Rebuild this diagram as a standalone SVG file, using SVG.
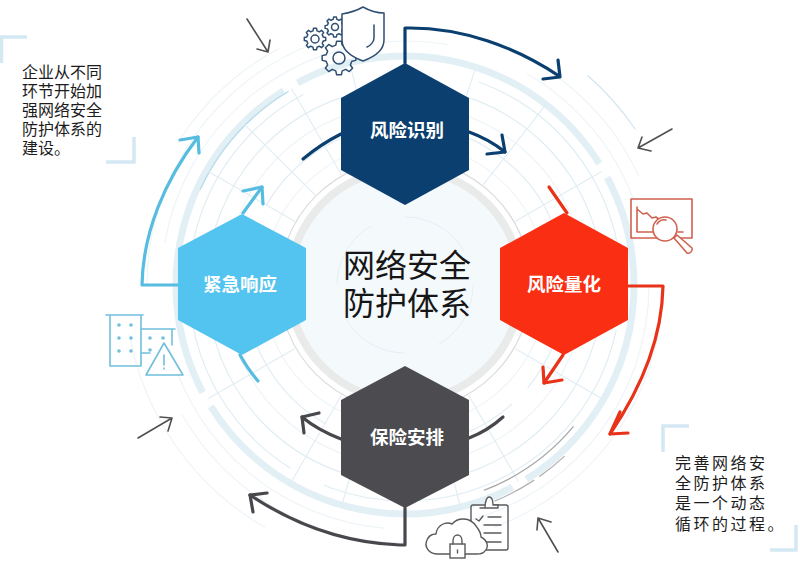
<svg xmlns="http://www.w3.org/2000/svg" xmlns:xlink="http://www.w3.org/1999/xlink" width="800" height="567" viewBox="0 0 800 567">
<style>
text{font-family:"Liberation Sans","Noto Sans CJK SC",sans-serif}
.lbl{font-size:18.5px;font-weight:700;fill:#fff;text-anchor:middle}
.note{font-size:16px;fill:#1c1c1c}
.ctr{font-size:32px;fill:#161616;text-anchor:middle}
.a{fill:none;stroke-width:3.2;stroke-linecap:round;stroke-linejoin:round}
.navy{stroke:#0b3f70}.red{stroke:#e8321a}.dark{stroke:#47474c}.blue{stroke:#56bce0}
.thin{fill:none;stroke:#505050;stroke-width:1.6;stroke-linecap:round;stroke-linejoin:round}
.ring{fill:none;stroke:#eef4f7;stroke-width:1.2}
.ringb{fill:none;stroke:#e0edf3;stroke-width:1.2}
.rad{stroke:#e0edf3;stroke-width:1.1}
.thick{fill:none;stroke:#e2f0f6;stroke-width:7}
.br{fill:none;stroke:#d3e8f3;stroke-width:3.5}
.ic-n{fill:none;stroke:#2e4e72;stroke-width:1.5;stroke-linejoin:round;stroke-linecap:round}
.ic-r{fill:none;stroke:#d0614f;stroke-width:1.6;stroke-linejoin:round;stroke-linecap:round}
.ic-b{fill:none;stroke:#70c0dc;stroke-width:1.6;stroke-linejoin:round;stroke-linecap:round}
.ic-g{fill:none;stroke:#5a5a5e;stroke-width:1.4;stroke-linejoin:round;stroke-linecap:round}
.dot{fill:#70c0dc}
</style>
<defs>
<polygon id="gear" vector-effect="non-scaling-stroke" points="7.57,-1.89 9.9,-1.39 9.9,1.39 7.57,1.89 6.69,4.02 7.99,6.02 6.02,7.99 4.02,6.69 1.89,7.57 1.39,9.9 -1.39,9.9 -1.89,7.57 -4.02,6.69 -6.02,7.99 -7.99,6.02 -6.69,4.02 -7.57,1.89 -9.9,1.39 -9.9,-1.39 -7.57,-1.89 -6.69,-4.02 -7.99,-6.02 -6.02,-7.99 -4.02,-6.69 -1.89,-7.57 -1.39,-9.9 1.39,-9.9 1.89,-7.57 4.02,-6.69 6.02,-7.99 7.99,-6.02 6.69,-4.02"/>
</defs>
<rect width="800" height="567" fill="#fff"/>

<g id="backdrop">
<circle class="ring" cx="405" cy="285" r="280" pathLength="360" stroke-dasharray="50 360" transform="rotate(120 405 285)"/>
<circle fill="none" stroke="#d4e6ee" stroke-width="1.300" cx="405" cy="285" r="278" pathLength="360" stroke-dasharray="15 360" transform="rotate(-49 405 285)"/>
<circle class="ring" cx="405" cy="285" r="268" pathLength="360" stroke-dasharray="30 360" transform="rotate(212 405 285)"/>
<circle class="ring" cx="405" cy="285" r="258" pathLength="360" stroke-dasharray="70 20 60 30 70 25 60 25"/>
<circle class="ring" cx="405" cy="285" r="244" pathLength="360" stroke-dasharray="80 15 70 25 90 20 40 20"/>
<circle class="thick" cx="405" cy="285" r="229" pathLength="360" stroke-dasharray="86 4" transform="rotate(-28 405 285)"/>
<circle class="ringb" cx="405" cy="285" r="216" pathLength="360" stroke-dasharray="70 12 100 10 120 48" transform="rotate(-70 405 285)"/>
<circle class="ringb" cx="405" cy="285" r="198"/>
<circle class="ring" cx="405" cy="285" r="180"/>
<circle class="ringb" cx="405" cy="285" r="160" pathLength="360" stroke-dasharray="40 8 60 12 80 10 50 12 70 18"/>
<circle class="ring" cx="405" cy="285" r="142"/>
<circle cx="405" cy="285" r="226" fill="none" stroke="#b5dcea" stroke-width="1.300" pathLength="360" stroke-dasharray="34 400" transform="rotate(205 405 285)"/>
<g>
<line class="rad" x1="532" y1="285" x2="632" y2="285" transform="rotate(-72 405 285)"/>
<line class="rad" x1="532" y1="285" x2="632" y2="285" transform="rotate(-52 405 285)"/>
<line class="rad" x1="532" y1="285" x2="632" y2="285" transform="rotate(-30 405 285)"/>
<line class="rad" x1="532" y1="285" x2="632" y2="285" transform="rotate(30 405 285)"/>
<line class="rad" x1="532" y1="285" x2="632" y2="285" transform="rotate(60 405 285)"/>
<line class="rad" x1="532" y1="285" x2="632" y2="285" transform="rotate(76 405 285)"/>
<line class="rad" x1="532" y1="285" x2="632" y2="285" transform="rotate(106 405 285)"/>
<line class="rad" x1="532" y1="285" x2="632" y2="285" transform="rotate(120 405 285)"/>
<line class="rad" x1="532" y1="285" x2="632" y2="285" transform="rotate(150 405 285)"/>
<line class="rad" x1="532" y1="285" x2="632" y2="285" transform="rotate(210 405 285)"/>
<line class="rad" x1="532" y1="285" x2="632" y2="285" transform="rotate(225 405 285)"/>
<line class="rad" x1="532" y1="285" x2="632" y2="285" transform="rotate(240 405 285)"/>
<line class="rad" x1="532" y1="285" x2="632" y2="285" transform="rotate(256 405 285)"/>
</g>
<circle cx="405" cy="285" r="112" fill="#f4f9fc"/>
<circle cx="405" cy="285" r="68" fill="none" stroke="#e7eff4" stroke-width="1" pathLength="360" stroke-dasharray="60 30"/>
<circle cx="405" cy="285" r="116" fill="none" stroke="#e9eaea" stroke-width="8"/>
<circle cx="405" cy="285" r="126" fill="none" stroke="#dcdcdc" stroke-width="1.200"/>
<circle cx="405" cy="285" r="220" fill="none" stroke="#a8a8a8" stroke-width="1.300" pathLength="360" stroke-dasharray="29 400" transform="rotate(40 405 285)"/>
<circle cx="405" cy="285" r="234" fill="none" stroke="#b4b4b4" stroke-width="1.300" pathLength="360" stroke-dasharray="8 1.5 11 400" transform="rotate(47 405 285)"/>
</g>

<g id="brackets">
<path class="br" d="M27 37H1.500V63"/>
<path class="br" d="M134 137V162H106"/>
<path class="br" d="M689 426H663V452"/>
<path class="br" d="M796 525V550H770"/>
</g>

<g id="connectors">
<path class="a navy" d="M405 63V28H410C462 28 514 46 559 76"/>
<path class="a navy" d="M558 60L560 77L543 79"/>
<path class="a navy" d="M303 159C315 149 327 141 341 134"/>
<path class="a navy" d="M469 132C483 137 495 144 505 152"/>
<path class="a navy" d="M502 135L505 152L487 154"/>
<path class="a red" d="M549 187L567 213"/>
<path class="a red" d="M628 286H663C662 340 640 390 610 434"/>
<path class="a red" d="M620 412L610 434L628 433"/>
<path class="a red" d="M563 355L544 383"/>
<path class="a red" d="M543 367L544 383L562 380"/>
<path class="a dark" d="M405 508V545H400C345 543 295 525 250 495"/>
<path class="a dark" d="M253 512L250 495L267 493"/>
<path class="a dark" d="M341 439C328 434 314 427 302 417"/>
<path class="a dark" d="M304 433L302 417L319 413"/>
<path class="a dark" d="M469 438C482 433 493 426 503 417"/>
<path class="a blue" d="M178 285H142C143 232 165 180 198 137"/>
<path class="a blue" d="M180 140L198 137L199 153"/>
<path class="a blue" d="M243 213L262 187"/>
<path class="a blue" d="M243 191L262 187L263 204"/>
<path class="a blue" d="M240 355C245 364 251 373 258 381"/>
<path class="thin" d="M247 19L268 52M257 49L268 52L270 40"/>
<path class="thin" d="M672 129L638 148M642 137L638 148L651 151"/>
<path class="thin" d="M138 438L172 418M160 417L172 418L168 431"/>
<path class="thin" d="M558 552L538 518M537 530L538 518L551 522"/>
</g>

<g id="node-identify">
<polygon points="405,63 469,98 469,170 405,205 341,170 341,98" fill="#0b3f70"/>
<text class="lbl" x="407" y="137">风险识别</text>
</g>
<g id="node-quantify">
<polygon points="564,213 628,248 628,320 564,355 500,320 500,248" fill="#f92e13"/>
<text class="lbl" x="564" y="291">风险量化</text>
</g>
<g id="node-arrange">
<polygon points="405,366 469,400 469,475 405,508 341,475 341,400" fill="#4b4b50"/>
<text class="lbl" x="407" y="444">保险安排</text>
</g>
<g id="node-respond">
<polygon points="242,214 306,248 306,320 242,355 178,320 178,248" fill="#53c3ef"/>
<text class="lbl" x="240" y="291">紧急响应</text>
</g>
<g id="node-center">
<text class="ctr" x="407" y="277">网络安全</text>
<text class="ctr" x="407" y="315">防护体系</text>
</g>

<g id="icon-gears">
<use xlink:href="#gear" href="#gear" class="ic-n" transform="translate(315 39) scale(1.080)"/>
<circle class="ic-n" cx="315" cy="39" r="4"/>
<use xlink:href="#gear" href="#gear" class="ic-n" transform="translate(335 27) scale(1)"/>
<circle class="ic-n" cx="335" cy="27" r="3.500"/>
<use xlink:href="#gear" href="#gear" class="ic-n" transform="translate(339 58) scale(1.700)"/>
<circle class="ic-n" cx="339" cy="58" r="6"/>
<path d="M363 7C356 11 349 13 342 14V40C342 50 352 57 363 61C374 57 384 50 384 40V13C377 13 370 11 363 7Z" fill="#fff" stroke="#2e4e72" stroke-width="1.500" stroke-linejoin="round"/>
<path class="ic-n" d="M374 25V38C374 42 370 46 367 47"/>
</g>
<g id="icon-chart">
<rect class="ic-r" x="631" y="199" width="61" height="39"/>
<path class="ic-r" d="M637 207V232H665M637 209L643 214L647 213L652 218L656 217L660 220"/>
<circle cx="665" cy="229" r="12" fill="#fff" stroke="#d0614f" stroke-width="1.600"/>
<path class="ic-r" d="M657 224C659 221 662 219 666 220"/>
<path d="M674 238L677 235L692 248C693 251 690 254 687 253Z" fill="#fff" stroke="#d0614f" stroke-width="1.600" stroke-linejoin="round"/>
<path class="ic-r" d="M678 232H683"/>
</g>
<g id="icon-building">
<path class="ic-b" d="M106 315H143M110 316V366H141V316M142 329H175M172 330V345M141 353H150"/>
<g class="dot">
<circle cx="119" cy="325" r="1.800"/><circle cx="131" cy="325" r="1.800"/>
<circle cx="119" cy="338" r="1.800"/><circle cx="131" cy="338" r="1.800"/>
<circle cx="119" cy="351" r="1.800"/><circle cx="131" cy="351" r="1.800"/>
<circle cx="150" cy="338" r="1.800"/><circle cx="163" cy="338" r="1.800"/>
<circle cx="150" cy="350" r="1.800"/>
</g>
<path d="M164 343L146 375H183Z" fill="#fff" stroke="#70c0dc" stroke-width="1.600" stroke-linejoin="round"/>
<path class="ic-b" d="M164 355V365M164 368V369"/>
</g>
<g id="icon-doc">
<rect class="ic-g" x="471" y="505" width="37" height="45" rx="2"/>
<path d="M480 508H485C485 501 487 497 489 497C492 497 493 501 493 505L498 505V508Z" fill="#fff" stroke="#5a5a5e" stroke-width="1.400" stroke-linejoin="round"/>
<path class="ic-g" d="M488 517H501M484 525H501M484 533H501M484 542H501M476 519L479 521L483 516"/>
<path d="M441 554H436C428 553 424 546 427 540C429 535 433 534 436 534C437 525 446 521 452 524C458 517 470 517 476 526C480 531 481 535 481 537C487 540 490 547 484 552C482 554 480 554 477 554Z" fill="#fff" stroke="#5a5a5e" stroke-width="1.400" stroke-linejoin="round"/>
<rect x="450" y="544" width="15" height="14" fill="#fff" stroke="#5a5a5e" stroke-width="1.400"/>
<path class="ic-g" d="M453 544V541C453 533 462 533 462 541V544M457.500 550V553"/>
</g>

<g id="notes">
<text class="note" x="22" y="78">企业从不同</text>
<text class="note" x="22" y="97">环节开始加</text>
<text class="note" x="22" y="116">强网络安全</text>
<text class="note" x="22" y="135">防护体系的</text>
<text class="note" x="22" y="154">建设。</text>
<text class="note" x="675" y="469" letter-spacing="2.500">完善网络安</text>
<text class="note" x="675" y="489" letter-spacing="2.500">全防护体系</text>
<text class="note" x="675" y="509" letter-spacing="2.500">是一个动态</text>
<text class="note" x="675" y="530" letter-spacing="2.500">循环的过程。</text>
</g>
</svg>
